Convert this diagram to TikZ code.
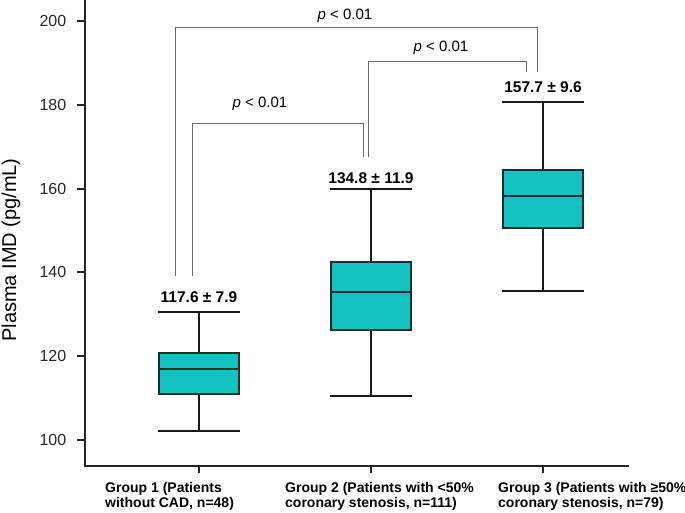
\documentclass[tikz,border=0pt]{standalone}
\usepackage{fontspec}
\setmainfont{Liberation Sans}
\usetikzlibrary{positioning}
\definecolor{boxfill}{RGB}{20,194,194}
\definecolor{boxedge}{RGB}{25,45,45}
\definecolor{brk}{RGB}{105,105,105}
\tikzset{every path/.style={line cap=rect}, axisline/.style={black!85,line width=1.5pt}, whisk/.style={black!90,line width=1.7pt}, iqr/.style={fill=boxfill,draw=boxedge,line width=1.4pt}, bracket/.style={brk,line width=0.8pt,line cap=butt}, ptext/.style={font=\fontsize{15}{15}\selectfont,inner sep=0pt}, stat/.style={font=\fontsize{15.5}{16}\selectfont\bfseries,inner sep=0pt,anchor=base}, grp/.style={font=\fontsize{14}{15}\selectfont\bfseries,align=left,inner sep=0pt,anchor=base west}}

\begin{document}
\begin{tikzpicture}[x=1pt,y=-1pt]
   \useasboundingbox (0,0) rectangle (685,512);
   % axes
   \draw[axisline] (85,0) -- (85,466) -- (628,466);
   \foreach \yy/\lab in {21/200,105/180,189/160,272/140,356/120,440/100}
      \draw[axisline] (78,\yy) -- (85,\yy) node[anchor=east,inner sep=0pt,font=\fontsize{16}{16}\selectfont] (tick\lab) at (67,\yy) {\lab};
   \foreach \xx in {199,371,543}
      \draw[axisline] (\xx,466) -- (\xx,472);
   \node[rotate=90,font=\fontsize{20}{20}\selectfont,inner sep=0pt] (ylab) at (11,250) {Plasma IMD (pg/mL)};
   % boxes: center, upper cap, q3, median, q1, lower cap
   \foreach \cx/\hi/\qa/\md/\qb/\lo/\nm in {199/312/353/369/394/431/one,371/189/262/292/330/396/two,543/102/170/196/228/291/three}{
      \draw[whisk] (\cx,\hi) -- (\cx,\lo);
      \draw[whisk] (\cx-40,\hi) -- (\cx+40,\hi);
      \draw[whisk] (\cx-40,\lo) -- (\cx+40,\lo);
      \draw[iqr] (\cx-40,\qa) rectangle (\cx+40,\qb);
      \draw[boxedge,line width=1.4pt] (\cx-40,\md) -- (\cx+40,\md);
   }
   \node[stat] (statone) at (199,302) {117.6 ± 7.9};
   \node[stat] (stattwo) at (371,183) {134.8 ± 11.9};
   \node[stat] (statthree) at (543,92) {157.7 ± 9.6};
   % significance brackets
   \draw[bracket] (175,276) -- (175,27) -- (537,27) -- (537,72);
   \draw[bracket] (368,157) -- (368,61) -- (526,61) -- (526,72);
   \draw[bracket] (192,276) -- (192,123) -- (363,123) -- (363,157);
   \node[ptext] (pall) at (345,16) {\textit{p} < 0.01};
   \node[ptext] (pupper) at (441,48) {\textit{p} < 0.01};
   \node[ptext] (plower) at (260,104) {\textit{p} < 0.01};
   % group labels
   \node[grp] (grpone) at (105,507) {Group 1 (Patients\\without CAD, n=48)};
   \node[grp] (grptwo) at (285,507) {Group 2 (Patients with <50\%\\coronary stenosis, n=111)};
   \node[grp] (grpthree) at (498,507) {Group 3 (Patients with ≥50\%\\coronary stenosis, n=79)};
\end{tikzpicture}
\end{document}
